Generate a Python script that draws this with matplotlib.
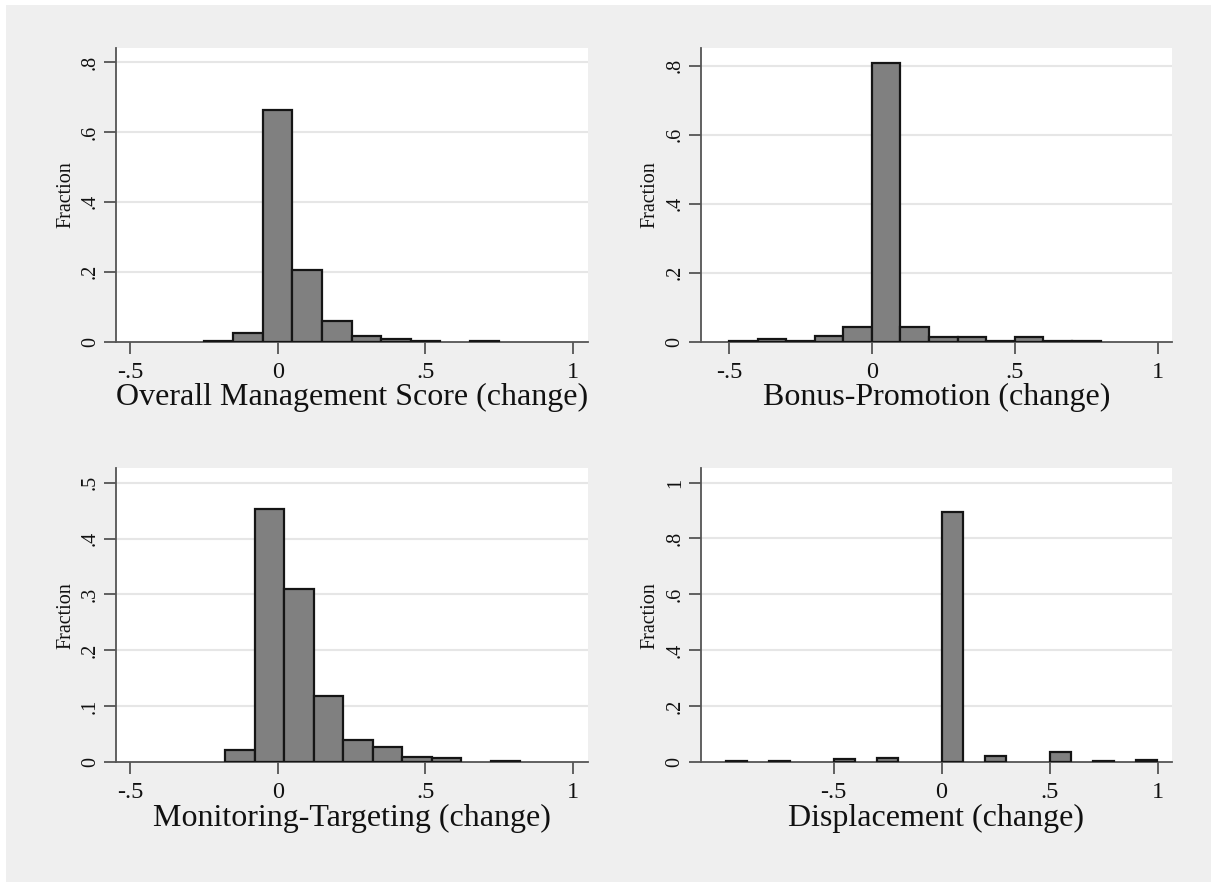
import matplotlib
matplotlib.use("Agg")
import matplotlib.pyplot as plt
from matplotlib.patches import Rectangle
import numpy as np

# ---- data ----
titles = ["Overall Management Score (change)", "Bonus-Promotion (change)",
          "Monitoring-Targeting (change)", "Displacement (change)"]

p1_start, p1_width = -0.25, 0.1
p1_heights = [0.002, 0.024, 0.662, 0.204, 0.060, 0.017, 0.0075, 0.003, 0.0, 0.003]

p2_start, p2_width = -0.5, 0.1
p2_heights = [0.002, 0.008, 0.002, 0.016, 0.043, 0.807, 0.044, 0.015, 0.015,
              0.002, 0.013, 0.002, 0.002]

p3_start, p3_width = -0.177, 0.0997
p3_heights = [0.021, 0.454, 0.310, 0.118, 0.039, 0.026, 0.009, 0.0066, 0.0, 0.002]

p4_start, p4_width = -1.0, 0.1
p4_heights = [0.005, 0, 0.004, 0, 0, 0.011, 0, 0.014, 0, 0,
              0.893, 0, 0.020, 0, 0, 0.035, 0, 0.004, 0, 0.007]

x_ticks = [-0.5, 0, 0.5, 1]
x_ticklabels = ["-.5", "0", ".5", "1"]
y_ticks_a = [0, 0.2, 0.4, 0.6, 0.8]
y_labels_a = ["0", ".2", ".4", ".6", ".8"]
y_ticks_c = [0, 0.1, 0.2, 0.3, 0.4, 0.5]
y_labels_c = ["0", ".1", ".2", ".3", ".4", ".5"]
y_ticks_d = [0, 0.2, 0.4, 0.6, 0.8, 1.0]
y_labels_d = ["0", ".2", ".4", ".6", ".8", "1"]

panels = [
    dict(start=p1_start, width=p1_width, heights=p1_heights, bar_w=p1_width,
         xlim=(-0.547, 1.05), ylim=(0, 0.84), yt=y_ticks_a, yl=y_labels_a),
    dict(start=p2_start, width=p2_width, heights=p2_heights, bar_w=p2_width,
         xlim=(-0.599, 1.049), ylim=(0, 0.851), yt=y_ticks_a, yl=y_labels_a),
    dict(start=p3_start, width=p3_width, heights=p3_heights, bar_w=p3_width,
         xlim=(-0.547, 1.05), ylim=(0, 0.526), yt=y_ticks_c, yl=y_labels_c),
    dict(start=p4_start, width=p4_width, heights=p4_heights, bar_w=0.096,
         xlim=(-1.115, 1.065), ylim=(0, 1.051), yt=y_ticks_d, yl=y_labels_d),
]

W, H = 1211, 882
fig = plt.figure(figsize=(W / 100, H / 100), dpi=100, facecolor="white")
fig.patches.append(Rectangle((6 / W, 0), 1 - 6 / W, 1 - 5 / H,
                             transform=fig.transFigure, facecolor="#efefef",
                             edgecolor="none", zorder=-10))

serif = "Liberation Serif"
# axes boxes in pixels: left, top, right, bottom
boxes = [(116, 48, 588, 341.7), (700.7, 48, 1171.7, 341.7),
         (116, 468.3, 588, 762), (700.7, 468.3, 1171.7, 762)]
ylabel_x = [65.7, 650.0, 65.7, 650.0]

spine_c = "#555555"
for i, (p, b) in enumerate(zip(panels, boxes)):
    l, t, r, bt = b
    ax = fig.add_axes([l / W, 1 - bt / H, (r - l) / W, (bt - t) / H])
    ax.set_facecolor("white")
    n = len(p["heights"])
    lefts = p["start"] + p["width"] * np.arange(n)
    centers = lefts + p["width"] / 2
    hts = np.array(p["heights"], dtype=float)
    mask = hts > 0
    ax.bar(centers[mask], hts[mask], width=p["bar_w"], align="center",
           color="#808080", edgecolor="#151515", linewidth=1.6, zorder=3)
    ax.set_xlim(*p["xlim"])
    ax.set_ylim(*p["ylim"])
    ax.set_xticks(x_ticks)
    ax.set_xticklabels(x_ticklabels, fontfamily=serif, fontsize=17.5)
    ax.set_yticks(p["yt"])
    ax.set_yticklabels(p["yl"], fontfamily=serif, fontsize=14.5,
                       rotation=90, va="center")
    for yv in p["yt"][1:]:
        ax.axhline(yv, color="#e6e6e6", lw=1.5, zorder=1)
    for s in ["top", "right"]:
        ax.spines[s].set_visible(False)
    for s in ["left", "bottom"]:
        ax.spines[s].set_color(spine_c)
        ax.spines[s].set_linewidth(1.3)
    ax.tick_params(axis="both", direction="out", length=8.5, width=1.3,
                   color=spine_c, labelcolor="#111111")
    ax.tick_params(axis="x", pad=6)
    ax.tick_params(axis="y", pad=3)
    ax.set_xlabel(titles[i], fontfamily=serif, fontsize=23, color="#111111")
    ax.xaxis.set_label_coords(0.5, -56.0 / (bt - t))
    ax.xaxis.label.set_va("center")
    ax.set_ylabel("Fraction", fontfamily=serif, fontsize=14.5, color="#111111")
    ax.yaxis.set_label_coords(-(l - ylabel_x[i]) / (r - l), 0.5)
    ax.yaxis.label.set_va("center")

fig.savefig("out.png", dpi=100, facecolor=fig.get_facecolor())
